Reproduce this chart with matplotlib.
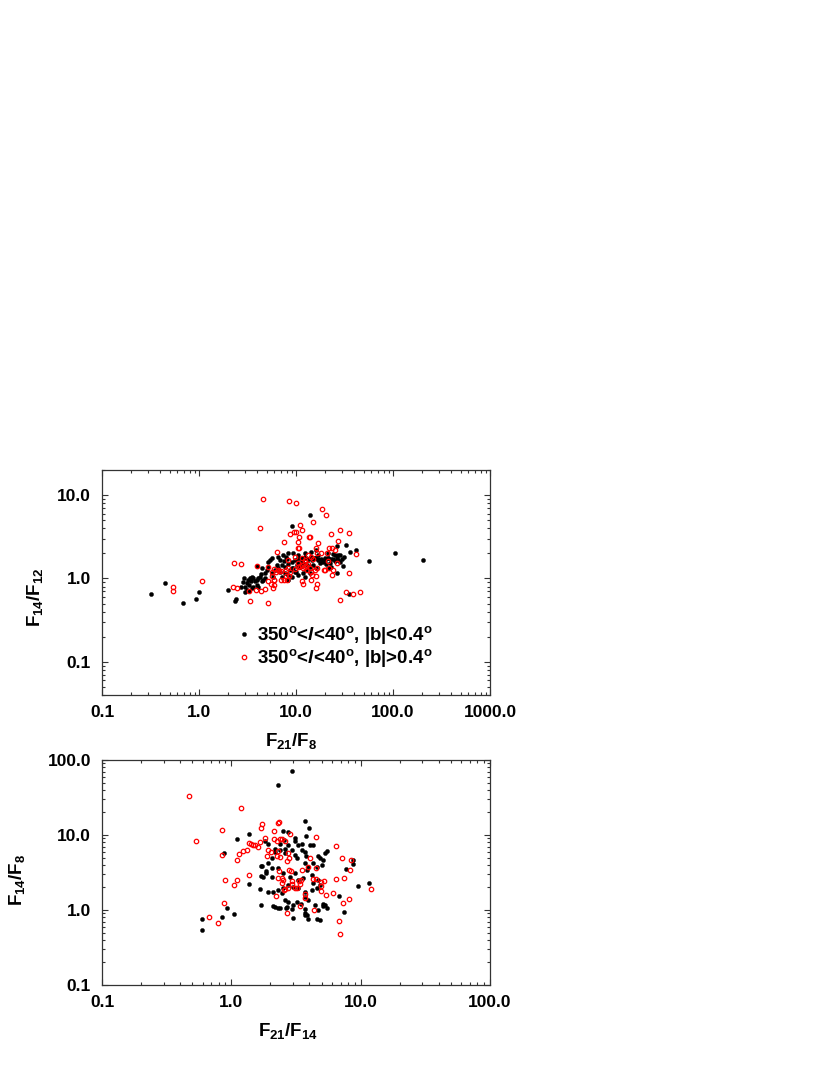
import matplotlib
matplotlib.use("Agg")
import matplotlib.pyplot as plt
from matplotlib import ticker

plt.rcParams['font.family'] = ['Liberation Sans', 'DejaVu Sans']
plt.rcParams['font.weight'] = 'bold'
plt.rcParams['mathtext.fontset'] = 'custom'
plt.rcParams['mathtext.rm'] = 'Liberation Sans:bold'
plt.rcParams['mathtext.it'] = 'Liberation Sans:italic:bold'
plt.rcParams['mathtext.bf'] = 'Liberation Sans:bold'

# ---------------- Top panel: F21/F8 vs F14/F12 ----------------
top_in_x = [0.32, 0.45, 0.68, 0.94, 1.0, 2.0, 2.37, 2.42,
            2.98, 3.1, 3.23, 3.36, 3.49, 3.63, 3.28, 3.43, 3.78, 3.93, 4.09, 4.26, 3.93, 3.63, 3.1,
            3.28, 3.49, 4.43, 4.6, 4.79, 4.36, 2.85, 2.7, 3.0, 4.1, 2.9,
            5.19, 5.4, 5.6, 6.3, 6.6, 6.1, 6.8, 5.19, 4.99, 4.79, 5.6, 5.83, 4.0, 4.44,
            6.6, 6.8, 7.1, 7.1, 7.4, 7.6, 7.7, 7.7,
            7.8, 8.0, 8.3, 8.3, 8.3, 8.7, 9.0, 9.0, 9.15, 9.4, 9.4, 9.75, 10.1, 10.5, 10.5, 10.5, 11.0, 11.4,
            11.9, 12.3, 12.3, 12.3, 12.8, 13.3, 13.8, 13.9, 14.4, 14.4, 15.0, 15.6, 16.2, 16.2, 16.9, 16.9,
            17.5, 18.3, 19.0, 19.8, 20.5, 21.4, 22.2, 23.1, 25.0,
            10.6, 11.4, 12.4, 13.4, 14.5, 15.7, 17.0, 18.4, 19.9, 10.2, 11.0, 11.9, 12.9, 13.9, 9.0, 9.8, 8.3,
            21.3, 21.3, 21.3, 22.7, 23.8, 24.2, 25.4, 26.2, 26.5, 26.6, 27.0, 27.0, 28.3, 28.3, 29.6, 30.6,
            31.6, 32.6, 35.0, 35.8, 41.6, 56.5, 106, 205]
top_in_y = [0.65, 0.88, 0.51, 0.57, 0.68, 0.73, 0.53, 0.56,
            0.80, 0.875, 0.96, 1.02, 1.05, 1.0, 0.84, 0.92, 0.92, 0.96, 1.0, 1.05, 0.84, 0.80, 0.73,
            0.71, 0.76, 0.92, 0.96, 1.0, 1.12, 0.90, 0.78, 0.68, 0.78, 1.0,
            1.59, 1.67, 1.75, 1.45, 1.32, 1.26, 1.21, 1.39, 1.26, 1.15, 1.15, 1.05, 1.42, 1.32,
            1.83, 1.67, 1.45, 1.03, 1.92, 1.6, 1.39, 1.15,
            1.83, 1.7, 1.49, 0.95, 2.0, 1.26, 1.59, 1.05, 4.3, 1.32, 2.0, 1.67, 1.2, 1.59, 1.1, 1.92, 1.36, 1.75,
            1.17, 1.78, 1.05, 2.0, 1.26, 1.7, 5.8, 1.15, 1.83, 2.1, 1.45, 1.75, 1.32, 2.2, 1.67, 1.92,
            1.52, 1.7, 1.59, 1.67, 1.49, 1.75, 1.55, 1.7, 1.64,
            1.75, 1.67, 1.83, 1.71, 1.67, 1.75, 1.71, 1.67, 1.75, 1.45, 1.39, 1.52, 1.45, 1.39, 1.32, 1.21, 1.1,
            2.01, 1.32, 1.75, 1.36, 1.96, 1.7, 1.92, 1.15, 2.43, 1.75, 1.92, 1.67, 1.9, 1.58, 1.7, 1.43,
            1.81, 2.5, 0.65, 2.07, 2.21, 1.64, 2.0, 1.67]

top_out_x = [0.54, 0.54, 1.08, 2.3, 2.68, 2.26, 2.44, 3.37, 5.2, 4.3,
             4.6, 8.5, 9.9, 18.5, 20.6, 15.1, 11.0, 8.7, 9.6, 10.0,
             11.4, 10.7, 13.5, 14.1, 23.0, 28.5, 35.0, 27.0, 7.5, 10.5,
             16.9, 10.5, 10.7, 15.9, 22.0, 23.5, 25.0, 6.4, 16.6, 18.0,
             20.8, 42.0, 13.3, 14.2, 15.0, 11.4, 12.3, 8.2, 4.0, 5.1,
             6.0, 6.6, 7.0, 20.0, 23.5, 35.5, 14.7, 16.4, 16.0, 11.4,
             11.7, 33.0, 38.5, 45.7, 28.5, 5.2, 5.75, 21.3, 26.6, 8.3,
             8.7, 9.75, 10.4, 11.0, 11.8, 12.3, 12.8, 13.1, 13.8, 14.3,
             15.7, 16.4, 19.6, 21.7, 24.0, 15.9, 14.3, 7.0, 7.6, 8.1,
             7.9, 8.5, 7.95, 6.7, 6.2, 5.7, 5.6, 5.9, 5.5, 3.3,
             3.9, 4.4, 4.8, 10.5, 11.4, 12.3, 13.3, 9.75, 5.98, 5.98]
top_out_y = [0.78, 0.70, 0.92, 1.52, 1.51, 0.80, 0.76, 0.54, 0.51, 4.0,
             8.9, 8.5, 8.0, 6.9, 5.7, 4.8, 4.4, 3.4, 3.6, 3.65,
             3.8, 3.15, 3.15, 3.15, 3.4, 3.8, 3.5, 2.8, 2.74, 2.7,
             2.66, 2.3, 2.33, 2.33, 2.3, 2.35, 2.17, 2.07, 2.0, 2.0,
             2.0, 1.94, 1.92, 1.83, 1.72, 1.75, 1.67, 1.67, 1.43, 1.39,
             1.3, 1.26, 1.23, 1.27, 1.1, 1.17, 1.09, 0.85, 0.76, 0.94,
             0.87, 0.69, 0.65, 0.68, 0.55, 0.94, 0.77, 1.62, 1.52, 1.32,
             1.2, 1.3, 1.36, 1.41, 1.32, 1.36, 1.43, 1.26, 1.35, 1.18,
             1.25, 1.35, 1.26, 1.32, 1.25, 1.08, 0.97, 0.95, 0.95, 0.95,
             1.06, 1.07, 1.27, 1.22, 1.19, 1.2, 1.07, 0.97, 0.87, 0.71,
             0.72, 0.71, 0.74, 1.52, 1.45, 1.59, 1.49, 1.83, 0.96, 0.84]

# ---------------- Bottom panel: F21/F14 vs F14/F8 ----------------
bot_in_x = [2.94, 2.28, 3.72, 2.52, 2.75, 4.0, 1.36, 1.1, 3.76, 3.13,
            2.54, 0.87, 1.81, 1.93, 1.37, 1.67, 1.71, 2.11, 2.31, 2.67,
            2.96, 3.44, 3.7, 3.74, 3.74, 2.99, 4.57, 5.1, 5.1, 6.85,
            7.4, 9.6, 11.5, 8.8, 8.8, 7.7, 0.59, 0.59, 0.84, 0.92,
            1.05, 1.69, 1.74, 1.71, 1.77, 1.86, 5.46, 5.3, 4.68, 4.82,
            3.1, 3.5, 3.29, 4.06, 4.31, 5.14, 4.99, 4.56, 4.31, 3.94,
            3.71, 3.2, 3.1, 2.92, 2.76, 2.6, 2.38, 2.17, 2.05, 1.93,
            2.05, 1.87, 2.05, 2.31, 2.52, 2.84, 3.1, 3.29, 3.6, 3.82,
            4.18, 4.7, 4.84, 4.56, 4.31, 4.18, 3.71, 3.29, 3.01, 2.76,
            2.52, 2.31, 2.11, 1.93, 2.45, 2.6, 2.76, 3.01, 3.2, 2.68,
            2.38, 2.17, 3.71, 3.94, 4.43, 4.7, 5.3, 5.46, 4.84, 3.82,
            3.94, 2.6, 3.7, 3.49, 3.81, 2.38, 2.18]
bot_in_y = [71, 46, 15.4, 11.2, 11.1, 12.5, 10.2, 8.9, 9.7, 8.3,
            8.7, 5.8, 8.3, 7.5, 2.2, 1.9, 1.17, 1.13, 1.07, 1.07,
            1.02, 1.19, 1.02, 0.92, 0.86, 0.79, 0.75, 1.19, 1.13, 1.54,
            0.95, 2.11, 2.29, 4.6, 4.06, 3.5, 0.76, 0.54, 0.81, 1.07,
            0.89, 3.86, 3.86, 2.84, 2.75, 3.31, 6.05, 5.7, 5.25, 5.0,
            9.0, 7.7, 7.4, 7.4, 7.4, 4.64, 3.98, 3.78, 4.19, 3.78,
            4.19, 4.89, 5.41, 6.3, 7.4, 6.6, 7.7, 6.0, 4.89, 4.19,
            3.6, 3.08, 2.79, 3.6, 3.08, 2.79, 3.08, 2.51, 2.64, 3.41,
            2.93, 2.51, 2.15, 1.95, 2.27, 1.85, 1.76, 1.95, 2.05, 2.15,
            1.95, 1.85, 1.76, 1.76, 1.67, 1.36, 1.29, 1.17, 1.29, 1.11,
            1.05, 1.11, 1.51, 1.36, 1.17, 1.0, 1.17, 1.05, 0.74, 0.86,
            0.77, 5.8, 6.0, 6.4, 5.25, 6.4, 6.6]

bot_out_x = [0.47, 0.53, 1.19, 0.84, 0.84, 0.9, 0.88, 0.67, 0.79, 1.1,
             1.05, 1.1, 1.15, 1.22, 1.32, 1.36, 1.42, 1.47, 1.53, 1.6,
             1.67, 1.71, 1.72, 1.82, 1.9, 1.93, 2.04, 2.12, 2.15, 2.24,
             2.28, 2.33, 2.38, 2.45, 2.61, 2.82, 2.31, 2.38, 2.74, 2.8,
             2.71, 2.25, 2.33, 2.31, 2.45, 2.48, 2.49, 2.77, 2.9, 2.96,
             2.92, 3.1, 3.21, 3.4, 2.75, 2.6, 2.23, 2.55, 2.68, 3.39,
             3.72, 3.74, 4.3, 4.54, 4.96, 5.2, 4.96, 4.96, 5.36, 4.52,
             3.92, 3.55, 4.08, 4.52, 6.46, 7.19, 8.43, 8.28, 7.45, 6.43,
             6.1, 7.36, 8.13, 12.0, 6.78, 6.98, 4.36, 3.45, 3.35, 1.37]
bot_out_y = [32.8, 8.3, 23.1, 11.5, 5.47, 2.54, 1.23, 0.81, 0.68, 2.49,
             2.16, 4.64, 5.5, 6.1, 6.3, 7.8, 7.5, 7.4, 7.3, 7.0,
             8.1, 12.5, 14.2, 9.2, 5.25, 6.25, 5.9, 8.75, 11.3, 8.3,
             14.6, 15.1, 8.75, 8.75, 8.3, 10.2, 6.1, 5.1, 5.8, 5.0,
             4.5, 5.2, 3.31, 2.7, 2.7, 2.31, 2.51, 3.45, 3.31, 2.24,
             2.44, 1.94, 1.99, 2.22, 1.99, 1.89, 1.55, 1.87, 0.91, 1.13,
             1.62, 1.43, 2.56, 2.56, 2.39, 2.44, 2.09, 1.79, 1.57, 3.67,
             3.74, 3.45, 5.0, 9.4, 7.1, 5.0, 4.6, 3.38, 2.64, 2.59,
             1.7, 1.24, 1.42, 1.89, 0.71, 0.48, 1.0, 2.5, 2.4, 2.95]

top_xticks = [0.1, 1, 10, 100, 1000]
top_yticks = [0.1, 1, 10]
bot_xticks = [0.1, 1, 10, 100]
bot_yticks = [0.1, 1, 10, 100]

W, H = 830, 1075
fig = plt.figure(figsize=(W / 100, H / 100), dpi=100)
ax1 = fig.add_axes([102 / W, 1 - 695 / H, 388 / W, 225 / H])
ax2 = fig.add_axes([102 / W, 1 - 985 / H, 388 / W, 225 / H])

fmt = ticker.FuncFormatter(lambda v, p: f"{v:.1f}")


def style(ax, xt, yt, xlim, ylim):
    ax.set_xscale('log')
    ax.set_yscale('log')
    ax.set_xlim(*xlim)
    ax.set_ylim(*ylim)
    ax.xaxis.set_major_locator(ticker.FixedLocator(xt))
    ax.yaxis.set_major_locator(ticker.FixedLocator(yt))
    ax.xaxis.set_minor_locator(ticker.LogLocator(base=10, subs=range(2, 10), numticks=20))
    ax.yaxis.set_minor_locator(ticker.LogLocator(base=10, subs=range(2, 10), numticks=20))
    ax.xaxis.set_major_formatter(fmt)
    ax.yaxis.set_major_formatter(fmt)
    ax.xaxis.set_minor_formatter(ticker.NullFormatter())
    ax.yaxis.set_minor_formatter(ticker.NullFormatter())
    ax.tick_params(which='both', direction='in', top=True, right=True, width=0.8, color='#333333')
    ax.tick_params(which='major', length=4.5)
    ax.tick_params(which='minor', length=2.3)
    ax.tick_params(axis='x', which='major', pad=7, labelsize=12.5)
    ax.tick_params(axis='y', which='major', pad=8, labelsize=12.5)
    for lab in ax.get_xticklabels() + ax.get_yticklabels():
        lab.set_fontweight('bold')
    for s in ax.spines.values():
        s.set_linewidth(0.9)
        s.set_color('#333333')


style(ax1, top_xticks, top_yticks, (0.1, 1000), (0.04, 20))
style(ax2, bot_xticks, bot_yticks, (0.1, 100), (0.1, 100))

in_kw = dict(ls='none', marker='o', ms=3.1, mfc='black', mec='black', mew=0.2)
out_kw = dict(ls='none', marker='o', ms=3.2, mfc='none', mec='red', mew=0.9)

ax1.plot(top_in_x, top_in_y, **in_kw)
ax1.plot(top_out_x, top_out_y, **out_kw)
ax2.plot(bot_in_x, bot_in_y, **in_kw)
ax2.plot(bot_out_x, bot_out_y, **out_kw)

# legend (manual, like the original)
lab1 = r"350$^{\rm o}$<$\it{l}$<40$^{\rm o}$, |b|<0.4$^{\rm o}$"
lab2 = r"350$^{\rm o}$<$\it{l}$<40$^{\rm o}$, |b|>0.4$^{\rm o}$"
ax1.plot([0.366], [0.272], transform=ax1.transAxes, **in_kw)
ax1.plot([0.366], [0.170], transform=ax1.transAxes, **out_kw)
ax1.text(0.3995, 0.2444, lab1, transform=ax1.transAxes, fontsize=13.5,
         fontweight='bold', va='baseline', ha='left')
ax1.text(0.3995, 0.1422, lab2, transform=ax1.transAxes, fontsize=13.5,
         fontweight='bold', va='baseline', ha='left')

# axis labels
fig.text(291 / W, 1 - 741 / H, r"F$_{\rm 21}$/F$_{\rm 8}$", fontsize=13.5,
         fontweight='bold', ha='center', va='center')
fig.text(288 / W, 1 - 1031 / H, r"F$_{\rm 21}$/F$_{\rm 14}$", fontsize=13.5,
         fontweight='bold', ha='center', va='center')
fig.text(35 / W, 1 - 597 / H, r"F$_{\rm 14}$/F$_{\rm 12}$", fontsize=13.5,
         fontweight='bold', ha='center', va='center', rotation=90)
fig.text(17 / W, 1 - 880 / H, r"F$_{\rm 14}$/F$_{\rm 8}$", fontsize=13.5,
         fontweight='bold', ha='center', va='center', rotation=90)

fig.savefig("out.png", dpi=100)
